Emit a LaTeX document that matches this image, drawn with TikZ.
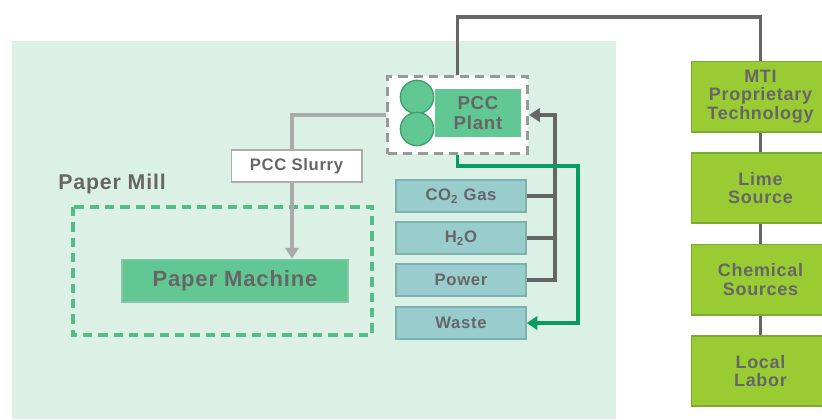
\documentclass[tikz,border=0pt]{standalone}
\usepackage{fontspec}
\setmainfont{Liberation Sans}[LetterSpace=4]
\usetikzlibrary{arrows.meta}
\definecolor{bgmint}{HTML}{DCF1E5}
\definecolor{txtgray}{HTML}{666666}
\definecolor{plantgreen}{HTML}{62C893}
\definecolor{plantedge}{HTML}{3E9E6C}
\definecolor{tealbox}{HTML}{99CCCC}
\definecolor{tealedge}{HTML}{7FAFAF}
\definecolor{limebox}{HTML}{99CC33}
\definecolor{limeedge}{HTML}{7FA830}
\definecolor{darkline}{HTML}{666666}
\definecolor{greenline}{HTML}{0A9A62}
\definecolor{lightline}{HTML}{AAAAAA}
\definecolor{dashgray}{HTML}{999999}
\definecolor{milldash}{HTML}{55BB88}
\tikzset{
  lbl/.style={text=txtgray, font=\bfseries, align=center, inner sep=0pt},
  sidebox/.style={lbl, draw=tealedge, line width=1pt, fill=tealbox, minimum width=97.5pt, minimum height=24pt, font=\bfseries\fontsize{12.5}{14}\selectfont},
  srcbox/.style={lbl, draw=limeedge, line width=1pt, fill=limebox, minimum width=104pt, font=\bfseries\fontsize{13.5}{14}\selectfont},
  darkconn/.style={draw=darkline, line width=2.6pt},
  greenconn/.style={draw=greenline, line width=2.6pt},
  lightconn/.style={draw=lightline, line width=2.6pt},
  tip/.style={-{Triangle[width=10pt,length=8pt]}}
}
\begin{document}
\begin{tikzpicture}[x=0.75pt, y=-0.75pt]
\useasboundingbox (0,0) rectangle (822,419);
\fill[white] (0,0) rectangle (822,419);
\fill[bgmint] (12,41) rectangle (616,419);

% paper mill area
\draw[milldash, line width=2.4pt, dash pattern=on 7pt off 4.5pt] (73,207) rectangle (372,335);
\node[lbl, anchor=west, font=\bfseries\fontsize{16}{18}\selectfont] (mill) at (58,184) {Paper Mill};
\node[lbl, draw=plantedge!60, line width=1pt, fill=plantgreen, minimum width=169.5pt, minimum height=32pt, font=\bfseries\fontsize{16.5}{18}\selectfont] (pm) at (235,280.5) {Paper Machine};

% PCC plant
\node[draw=dashgray, fill=white, line width=2.4pt, dash pattern=on 7pt off 4.5pt, minimum width=105pt, minimum height=58pt, inner sep=0pt] (pcc) at (457.5,115) {};
\node[lbl, fill=plantgreen, minimum width=65pt, minimum height=36pt, font=\bfseries\fontsize{14}{15.5}\selectfont] (plant) at (478,113) {PCC\\Plant};
\node[circle, draw=plantedge, fill=plantgreen, line width=1pt, minimum size=25pt, inner sep=0pt] (c1) at (417,97) {};
\node[circle, draw=plantedge, fill=plantgreen, line width=1pt, minimum size=25pt, inner sep=0pt] (c2) at (417,129) {};

% slurry
\coordinate (sbend) at (292,115);
\draw[lightconn] (pcc.west) -- (sbend) -- (sbend |- 0,150);
\node[lbl, draw=dashgray!80, fill=white, line width=1pt, minimum width=98pt, minimum height=24pt, font=\bfseries\fontsize{12.5}{14}\selectfont] (slurry) at (296.5,166) {PCC Slurry};
\draw[lightconn, tip] (slurry.south -| sbend) -- (pm.north -| sbend);

% inputs
\node[sidebox] (co2) at (461,196) {CO\textsubscript{2} Gas};
\node[sidebox] (h2o) at (461,238) {H\textsubscript{2}O};
\node[sidebox] (power) at (461,280) {Power};
\node[sidebox] (waste) at (461,323) {Waste};

\coordinate (bus) at (555,115);
\draw[darkconn] (co2.east) -- (co2.east -| bus);
\draw[darkconn] (h2o.east) -- (h2o.east -| bus);
\draw[darkconn, tip] (power.east) -| (bus) -- (pcc.east);

\coordinate (gbend) at (578,166);
\draw[greenconn, tip] (pcc.south) |- (gbend) |- (waste.east);

% sources
\node[srcbox, minimum height=53pt] (mti) at (760.5,96.5) {MTI\\Proprietary\\Technology};
\node[srcbox, minimum height=52.5pt] (lime) at (760.5,188) {Lime\\Source};
\node[srcbox, minimum height=53pt] (chem) at (760.5,279.5) {Chemical\\Sources};
\node[srcbox, minimum height=52.5pt] (labor) at (760.5,371) {Local\\Labor};
\draw[darkconn] (mti.south) -- (lime.north);
\draw[darkconn] (lime.south) -- (chem.north);
\draw[darkconn] (chem.south) -- (labor.north);

\coordinate (topc) at (600,17);
\draw[darkconn] (pcc.north) |- (topc) -| (mti.north);
\end{tikzpicture}
\end{document}
